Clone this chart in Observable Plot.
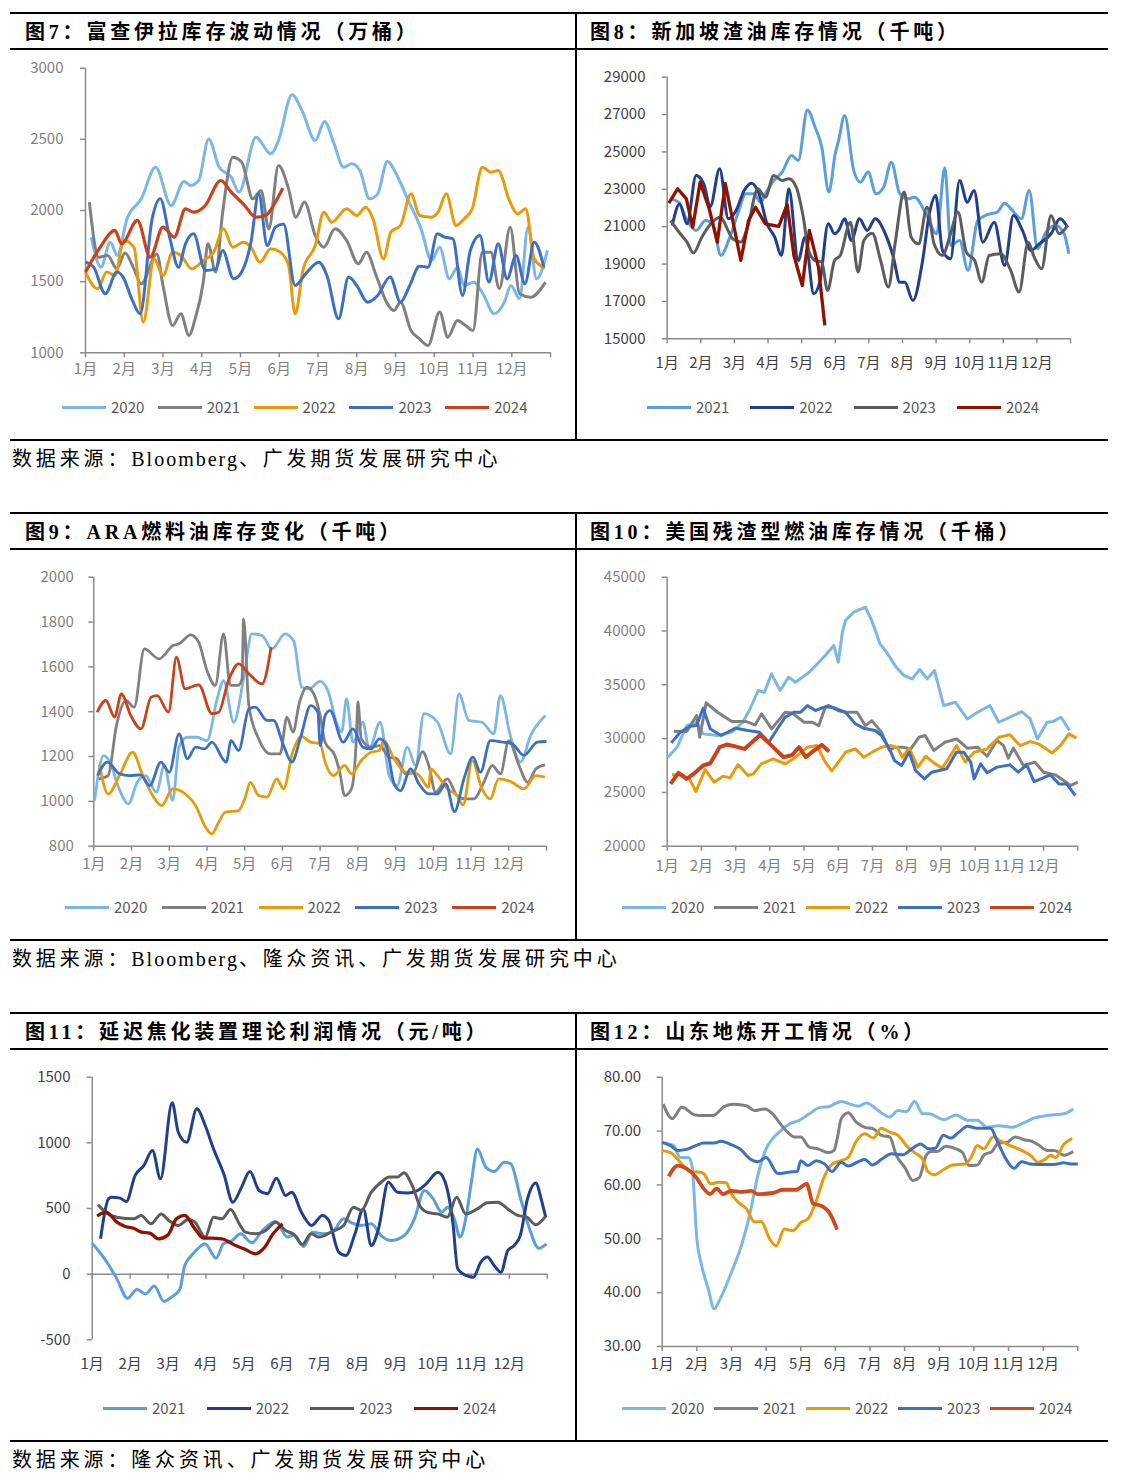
<!DOCTYPE html>
<html><head><meta charset="utf-8">
<script src="https://cdn.jsdelivr.net/npm/d3@7"></script>
<script src="https://cdn.jsdelivr.net/npm/@observablehq/plot@0.6"></script>
<style>
body{margin:0;background:#fff;}
#page{position:relative;width:1131px;height:1481px;background:#fff;overflow:hidden;font-family:"Noto Sans CJK SC",sans-serif;}
.hr{position:absolute;left:10px;width:1098px;height:1.5px;background:#000;z-index:5}
.vr{position:absolute;left:575px;width:1.5px;background:#000;z-index:5}
.title{position:absolute;font-family:"Liberation Serif","Noto Sans CJK SC",serif;font-weight:bold;font-size:20px;letter-spacing:3.8px;color:#000;line-height:20px;white-space:nowrap;z-index:6}
.src{position:absolute;left:12px;font-family:"Liberation Serif","Noto Sans CJK SC",serif;font-size:20px;letter-spacing:3.85px;line-height:20px;white-space:nowrap;color:#000}
.src .en{letter-spacing:2px}
.panel{position:absolute;z-index:1}
.leg{position:absolute;height:20px;z-index:6}
.legline{position:absolute;left:0;top:8.5px;width:44px;height:3px}
.legtext{position:absolute;left:49px;top:1px;font-size:15px;color:#595959;line-height:18px;font-family:"Noto Sans CJK SC",sans-serif}
</style></head><body><div id="page"></div>
<script>
// ---------- tick labels ----------
const MONTH_LABELS = ["1月","2月","3月","4月","5月","6月","7月","8月","9月","10月","11月","12月"];
const MONTH_TICKS = [0,1,2,3,4,5,6,7,8,9,10,11,12];

// ---------- 图7 富查伊拉库存 (万桶) ----------
const f7_years = ["2020","2021","2022","2023","2024"];
const f7_yTicks = [1000,1500,2000,2500,3000];
const f7_2020 = [[0.15,1813],[0.40,1602],[0.64,1777],[0.82,1684],[1.07,1941],[1.44,2082],[1.81,2304],[2.21,2035],[2.54,2204],[2.71,2176],[2.92,2211],[3.18,2503],[3.45,2304],[3.76,2234],[3.96,2129],[4.40,2515],[4.78,2398],[4.98,2492],[5.33,2813],[5.59,2700],[5.93,2492],[6.17,2625],[6.40,2480],[6.66,2304],[6.87,2328],[7.08,2281],[7.33,2082],[7.54,2117],[7.79,2344],[8.04,2246],[8.31,2082],[8.66,1871],[8.93,1649],[9.14,1742],[9.39,1520],[9.60,1602],[9.77,1473],[10.02,1496],[10.28,1403],[10.54,1274],[10.81,1356],[10.98,1473],[11.20,1380],[11.42,1883],[11.64,1520],[11.92,1719]];
const f7_2021 = [[0.10,2059],[0.34,1672],[0.57,1684],[0.81,1590],[1.02,1702],[1.25,1590],[1.44,1485],[1.84,1695],[2.0,1473],[2.25,1192],[2.46,1274],[2.67,1122],[2.83,1239],[3.04,1497],[3.16,1766],[3.36,1567],[3.54,1988],[3.80,2375],[4.03,2340],[4.32,2082],[4.53,2141],[4.73,1871],[4.98,2316],[5.24,2152],[5.43,1953],[5.65,2060],[5.93,1824],[6.15,1742],[6.44,1871],[6.74,1789],[7.04,1625],[7.25,1707],[7.50,1543],[7.79,1344],[7.96,1297],[8.13,1356],[8.40,1157],[8.62,1098],[8.84,1052],[9.14,1286],[9.35,1110],[9.60,1227],[9.81,1192],[10.0,1157],[10.24,1707],[10.46,1707],[10.68,1450],[10.96,1883],[11.20,1415],[11.49,1391],[11.87,1497]];
const f7_2022 = [[0,1567],[0.31,1450],[0.55,1567],[0.76,1543],[0.99,1789],[1.25,1742],[1.49,1215],[1.77,1660],[2.0,1543],[2.25,1707],[2.46,1684],[2.74,1590],[3.04,1649],[3.31,1707],[3.56,1871],[3.80,1742],[4.07,1777],[4.27,1742],[4.50,1637],[4.78,1731],[5.03,1707],[5.24,1614],[5.41,1274],[5.62,1590],[5.93,1754],[6.15,1988],[6.36,1918],[6.74,2012],[7.0,1965],[7.23,2023],[7.42,1941],[7.69,1660],[7.88,1848],[8.13,1895],[8.40,2117],[8.62,1965],[8.93,1953],[9.10,1988],[9.31,2117],[9.56,1895],[9.77,1941],[9.98,2012],[10.24,2304],[10.46,2269],[10.65,2281],[10.94,2070],[11.15,1976],[11.36,2012],[11.58,1660],[11.86,1595]];
const f7_2023 = [[0,1637],[0.21,1602],[0.51,1415],[0.81,1567],[0.97,1532],[1.21,1368],[1.41,1274],[1.72,1941],[1.93,2082],[2.17,1813],[2.40,1602],[2.58,1766],[2.79,1836],[3.09,1579],[3.36,1590],[3.54,1719],[3.82,1520],[4.0,1555],[4.27,1777],[4.47,2117],[4.69,1754],[4.90,1883],[5.11,1906],[5.41,1473],[5.68,1555],[6.02,1637],[6.23,1543],[6.53,1239],[6.79,1532],[7.0,1473],[7.28,1356],[7.54,1403],[7.86,1532],[8.13,1356],[8.35,1462],[8.62,1609],[8.84,1602],[9.08,1836],[9.27,1813],[9.48,1801],[9.73,1403],[9.93,1719],[10.18,1824],[10.41,1497],[10.65,1766],[10.88,1520],[11.11,1684],[11.34,1485],[11.58,1777],[11.83,1602]];
const f7_2024 = [[0,1567],[0.38,1742],[0.76,1860],[0.93,1766],[1.34,1930],[1.67,1672],[2.0,1883],[2.29,1813],[2.58,2012],[2.79,1988],[3.09,2035],[3.49,2211],[3.76,2129],[4.07,2047],[4.40,1953],[4.65,1965],[4.90,2059],[5.09,2157]];

// ---------- 图8 新加坡渣油库存 (千吨) ----------
const f8_years = ["2021","2022","2023","2024"];
const f8_yTicks = [15000,17000,19000,21000,23000,25000,27000,29000];
const f8_2021 = [[0.10,22490],[0.34,22310],[0.59,21330],[0.86,20800],[1.14,21330],[1.35,21155],[1.60,19460],[1.83,20265],[2.10,21690],[2.34,22760],[2.58,22760],[2.78,22310],[2.92,22760],[3.17,23470],[3.42,23920],[3.70,24810],[3.90,24540],[4.17,27250],[4.40,26325],[4.60,25255],[4.81,22850],[5.0,24900],[5.1,25610],[5.28,26950],[5.55,24010],[5.75,23380],[5.98,23920],[6.21,22760],[6.44,23115],[6.67,24450],[6.92,22760],[7.17,22490],[7.36,22580],[7.70,21690],[8.02,20620],[8.26,24150],[8.44,19990],[8.70,20265],[8.95,18660],[9.24,21330],[9.53,21650],[9.82,21780],[10.04,22260],[10.27,21870],[10.54,21420],[10.77,22940],[11.02,19820],[11.27,20710],[11.56,21065],[11.81,20620],[11.95,19550]];
const f8_2022 = [[0.15,21065],[0.37,22220],[0.59,21155],[0.86,23740],[1.09,23290],[1.28,22080],[1.56,24100],[1.82,21420],[2.05,21865],[2.29,22940],[2.51,23330],[2.73,22760],[2.97,21155],[3.20,20440],[3.40,19460],[3.62,23030],[3.90,19193],[4.10,20440],[4.36,17410],[4.55,18120],[4.79,21155],[4.98,20620],[5.10,20800],[5.28,21420],[5.48,20265],[5.72,21420],[5.95,20800],[6.19,21420],[6.49,20620],[6.73,19370],[6.92,18030],[7.07,18030],[7.31,17050],[7.60,19190],[7.80,21690],[7.99,22670],[8.19,19730],[8.43,19280],[8.70,23470],[8.93,22310],[9.13,22940],[9.39,20170],[9.73,21240],[10.04,18925],[10.30,21600],[10.57,20800],[10.82,19730],[11.07,20083],[11.42,20620],[11.69,21420],[11.91,20975]];
const f8_2023 = [[0.10,21330],[0.39,20620],[0.59,20175],[0.78,19590],[1.03,20440],[1.30,21155],[1.57,21510],[1.95,20350],[2.19,20175],[2.39,20975],[2.70,23030],[2.92,22580],[3.17,23740],[3.42,23470],[3.62,23560],[3.84,23115],[4.04,21600],[4.21,19730],[4.40,19190],[4.60,19100],[4.77,17590],[4.98,19190],[5.15,19460],[5.45,21240],[5.68,18570],[5.85,20260],[6.10,20655],[6.35,19190],[6.58,17770],[6.78,20083],[7.05,22850],[7.26,20440],[7.48,20083],[7.73,22040],[7.94,20083],[8.19,19460],[8.43,20620],[8.65,21780],[8.90,19640],[9.15,19190],[9.36,18030],[9.58,19460],[9.92,19550],[10.22,18660],[10.47,17500],[10.74,20170],[10.92,19370],[11.14,18750],[11.42,21600],[11.66,20620],[11.92,21065]];
const f8_2024 = [[0.05,22260],[0.31,23030],[0.57,22490],[0.76,20975],[0.98,23380],[1.25,21960],[1.49,20170],[1.73,23300],[1.95,21330],[2.19,19190],[2.42,21330],[2.63,22040],[2.92,21155],[3.32,21020],[3.57,22190],[3.77,19460],[4.02,17855],[4.23,20800],[4.50,18840],[4.69,15720]];

// ---------- 图9 ARA燃料油库存 (千吨) ----------
const f9_years = ["2020","2021","2022","2023","2024"];
const f9_yTicks = [800,1000,1200,1400,1600,1800,2000];
const f9_2020 = [[0.02,1004],[0.26,1204],[0.43,1175],[0.64,1070],[0.92,989],[1.15,1085],[1.37,1115],[1.66,1041],[1.87,1160],[2.09,1004],[2.26,1242],[2.48,1286],[2.74,1286],[3.0,1271],[3.27,1457],[3.44,1539],[3.71,1353],[3.97,1546],[4.19,1747],[4.46,1740],[4.72,1680],[5.07,1747],[5.30,1715],[5.51,1510],[5.70,1502],[6.0,1535],[6.22,1487],[6.43,1353],[6.57,1309],[6.70,1457],[6.87,1264],[7.13,1353],[7.30,1234],[7.59,1353],[7.83,1115],[8.04,1070],[8.31,1242],[8.53,1160],[8.75,1391],[9.11,1353],[9.46,1212],[9.68,1479],[9.94,1361],[10.29,1353],[10.60,1301],[10.78,1472],[11.04,1294],[11.31,1175],[11.58,1294],[11.97,1383]];
const f9_2021 = [[0.13,1100],[0.38,1115],[0.60,1338],[0.85,1450],[1.07,1420],[1.34,1680],[1.73,1636],[2.10,1695],[2.26,1703],[2.57,1743],[2.78,1710],[3.0,1584],[3.22,1517],[3.44,1747],[3.62,1517],[3.82,1517],[3.93,1546],[3.97,1814],[4.11,1427],[4.37,1279],[4.68,1212],[4.94,1212],[5.12,1376],[5.28,1309],[5.45,1440],[5.65,1509],[5.83,1479],[6.0,1383],[6.13,1264],[6.39,1205],[6.52,1130],[6.65,1026],[6.83,1056],[6.96,1279],[7.0,1445],[7.09,1279],[7.35,1242],[7.57,1249],[7.83,1197],[8.04,1190],[8.26,1123],[8.48,1130],[8.71,1222],[8.88,1160],[9.06,1041],[9.37,1100],[9.63,1026],[9.85,1011],[10.07,1011],[10.34,1085],[10.56,1160],[10.78,1123],[11.0,1271],[11.27,1160],[11.50,1085],[11.72,1145],[11.96,1163]];
const f9_2022 = [[0.15,1163],[0.38,1033],[0.68,1115],[1.03,1219],[1.30,1115],[1.56,1026],[1.80,981],[2.09,1056],[2.43,1033],[2.70,981],[2.96,885],[3.13,855],[3.31,907],[3.49,952],[3.84,959],[4.0,1011],[4.15,1085],[4.37,1026],[4.59,1019],[4.85,1100],[5.03,1056],[5.27,1219],[5.50,1290],[5.75,1264],[6.0,1257],[6.13,1175],[6.35,1115],[6.65,1160],[6.83,1123],[7.09,1182],[7.35,1219],[7.57,1227],[7.69,1271],[7.96,1190],[8.26,1130],[8.57,1123],[8.88,1063],[8.93,1145],[9.11,1115],[9.37,1056],[9.63,1026],[9.79,984],[10.03,1182],[10.29,1056],[10.51,1011],[10.73,1100],[11.04,1089],[11.40,1056],[11.72,1115],[11.96,1108]];
const f9_2023 = [[0.10,1115],[0.36,1175],[0.68,1123],[0.94,1115],[1.24,1118],[1.48,1070],[1.78,1175],[2.0,1130],[2.26,1301],[2.48,1190],[2.70,1242],[2.94,1234],[3.13,1264],[3.51,1175],[3.64,1271],[3.84,1227],[4.11,1412],[4.28,1420],[4.59,1361],[4.76,1361],[5.03,1249],[5.25,1175],[5.48,1285],[5.75,1427],[5.94,1398],[6.0,1249],[6.13,1383],[6.26,1405],[6.61,1264],[6.87,1323],[7.13,1242],[7.35,1234],[7.57,1279],[7.74,1257],[7.96,1078],[8.13,1048],[8.40,1145],[8.62,1078],[8.88,1033],[9.11,1033],[9.33,1078],[9.56,954],[9.81,1100],[10.05,1197],[10.25,1130],[10.51,1271],[10.86,1264],[11.09,1257],[11.40,1205],[11.76,1264],[12.0,1267]];
const f9_2024 = [[0.09,1398],[0.32,1450],[0.55,1376],[0.73,1479],[0.98,1383],[1.25,1323],[1.52,1465],[1.68,1472],[1.98,1398],[2.19,1643],[2.42,1502],[2.78,1520],[3.13,1391],[3.31,1398],[3.57,1539],[3.84,1613],[4.11,1569],[4.46,1524],[4.70,1688]];

// ---------- 图10 美国残渣型燃油库存 (千桶) ----------
const f10_years = ["2020","2021","2022","2023","2024"];
const f10_yTicks = [20000,25000,30000,35000,40000,45000];
const f10_2020 = [[0.02,28270],[0.29,29200],[0.57,31210],[0.86,31520],[1.05,30440],[1.47,30290],[1.89,30600],[2.21,31520],[2.42,32760],[2.66,34470],[2.84,34310],[3.05,36020],[3.30,34470],[3.55,35710],[3.75,35240],[4.15,36170],[4.62,37720],[4.87,38650],[5.0,37100],[5.12,39890],[5.21,40970],[5.45,41750],[5.79,42210],[5.98,40970],[6.22,38800],[6.41,38030],[6.69,36640],[6.92,35860],[7.16,35550],[7.38,36420],[7.60,35550],[7.81,36330],[8.08,33070],[8.42,33380],[8.77,31830],[9.07,32450],[9.43,33070],[9.69,31520],[10.02,31990],[10.36,32510],[10.61,31830],[10.82,29970],[11.10,31520],[11.27,31580],[11.51,31990],[11.76,30750]];
const f10_2021 = [[0.19,30690],[0.57,30660],[0.86,32140],[0.95,30130],[1.14,33320],[1.47,32450],[1.89,31580],[2.31,31580],[2.57,31270],[2.76,32300],[3.05,30900],[3.45,32450],[3.65,32390],[4.0,31520],[4.24,31520],[4.43,31210],[4.62,32920],[4.83,32920],[5.21,32450],[5.55,32450],[5.79,31210],[5.98,31670],[6.26,30600],[6.50,28890],[6.64,29200],[6.88,29200],[7.12,29040],[7.36,30130],[7.54,30290],[7.79,28890],[8.12,29660],[8.46,29970],[8.77,29110],[9.07,29200],[9.35,28360],[9.64,29820],[9.83,29350],[9.97,28180],[10.12,29110],[10.41,27500],[10.75,27810],[11.0,26880],[11.34,26630],[11.59,26100],[11.78,25640],[12.0,25950]];
const f10_2022 = [[0.14,26630],[0.43,26630],[0.65,26260],[0.84,25080],[1.11,27120],[1.37,25950],[1.63,26510],[1.84,26350],[2.07,27590],[2.36,26570],[2.52,26720],[2.75,27650],[3.10,28120],[3.45,27650],[3.75,28270],[4.10,29200],[4.38,29350],[4.62,27810],[4.81,27000],[5.0,27800],[5.21,28730],[5.50,29040],[5.74,28270],[6.08,28890],[6.26,29200],[6.55,29350],[6.74,29110],[6.88,28270],[7.07,29110],[7.33,27350],[7.55,28360],[7.77,27810],[8.03,27250],[8.22,28120],[8.46,29350],[8.71,27810],[8.97,28730],[9.35,29040],[9.69,30130],[10.02,30350],[10.31,29350],[10.61,29720],[10.85,29510],[11.25,28670],[11.49,29350],[11.74,30440],[11.96,30040]];
const f10_2023 = [[0.12,29600],[0.38,30590],[0.67,31150],[0.86,31210],[1.05,32820],[1.26,30900],[1.58,30290],[2.0,30970],[2.36,30750],[2.70,30590],[2.97,29660],[3.25,31060],[3.45,31990],[3.70,32450],[3.90,32450],[4.10,33070],[4.33,32610],[4.71,33070],[5.0,32610],[5.21,32450],[5.50,31370],[5.74,30970],[6.08,30750],[6.26,30290],[6.50,29040],[6.64,27960],[6.85,27500],[7.07,28730],[7.26,27030],[7.52,26260],[7.73,26880],[8.17,27190],[8.45,28730],[8.67,28730],[8.87,27810],[8.97,26260],[9.16,27650],[9.35,26820],[9.64,27350],[10.02,27560],[10.26,26880],[10.51,27560],[10.72,26010],[11.20,26630],[11.45,25790],[11.67,25790],[11.93,24710]];
const f10_2024 = [[0.10,25790],[0.33,26820],[0.57,26260],[0.81,26820],[1.05,27500],[1.26,27710],[1.53,29200],[1.74,29450],[2.0,29260],[2.26,29040],[2.72,30350],[3.05,29350],[3.40,28270],[3.65,28480],[3.85,29200],[4.05,28270],[4.29,28890],[4.52,29420],[4.73,28800]];

// ---------- 图11 延迟焦化装置理论利润 (元/吨) ----------
const f11_years = ["2021","2022","2023","2024"];
const f11_yTicks = [-500,0,500,1000,1500];
const f11_2021 = [[0,236],[0.39,91],[0.65,-36],[0.93,-183],[1.18,-117],[1.41,-150],[1.64,-91],[1.89,-208],[2.09,-175],[2.31,-117],[2.44,66],[2.62,142],[2.80,198],[2.97,231],[3.27,122],[3.46,231],[3.69,256],[3.91,307],[4.21,239],[4.49,332],[4.84,401],[5.15,282],[5.33,300],[5.57,210],[5.81,320],[6.07,307],[6.33,320],[6.63,421],[6.84,391],[7.10,371],[7.36,383],[7.62,294],[7.88,256],[8.23,294],[8.50,421],[8.76,637],[8.98,579],[9.22,472],[9.37,510],[9.55,421],[9.70,282],[9.85,421],[10.0,700],[10.16,954],[10.38,815],[10.60,782],[10.87,853],[11.04,840],[11.30,574],[11.52,358],[11.78,198],[11.98,231]];
const f11_2022 = [[0.22,269],[0.43,574],[0.52,586],[0.74,579],[0.90,553],[1.13,751],[1.36,827],[1.59,942],[1.80,726],[2.11,1305],[2.27,1081],[2.49,1005],[2.76,1259],[2.98,1132],[3.20,954],[3.47,764],[3.71,548],[3.92,650],[4.16,782],[4.40,637],[4.62,612],[4.86,731],[5.10,599],[5.26,624],[5.53,465],[5.79,371],[6.07,447],[6.24,409],[6.50,168],[6.69,142],[6.93,307],[7.15,497],[7.36,218],[7.55,345],[7.81,700],[8.05,624],[8.32,619],[8.58,637],[8.81,688],[9.12,777],[9.31,700],[9.51,396],[9.64,41],[9.86,-10],[10.05,-23],[10.25,91],[10.42,130],[10.60,66],[10.78,15],[10.96,180],[11.13,218],[11.29,294],[11.48,574],[11.70,695],[11.84,574],[11.96,434]];
const f11_2023 = [[0.15,528],[0.41,459],[0.65,434],[1.09,421],[1.29,447],[1.55,383],[1.82,459],[2.02,409],[2.27,371],[2.54,416],[2.71,396],[2.98,282],[3.20,434],[3.42,421],[3.65,492],[3.88,383],[4.04,320],[4.31,307],[4.58,332],[4.84,396],[5.10,332],[5.33,300],[5.54,225],[5.77,307],[5.98,282],[6.33,325],[6.63,371],[6.89,510],[7.10,485],[7.36,624],[7.62,700],[7.84,739],[8.05,739],[8.22,772],[8.44,675],[8.66,510],[8.88,467],[9.11,459],[9.37,434],[9.61,586],[9.85,459],[10.16,497],[10.42,543],[10.69,548],[10.96,497],[11.22,447],[11.46,434],[11.70,376],[11.96,442]];
const f11_2024 = [[0.13,442],[0.37,472],[0.65,396],[0.87,363],[1.09,350],[1.30,320],[1.52,312],[1.75,269],[2.0,299],[2.22,421],[2.44,447],[2.71,345],[2.93,274],[3.15,274],[3.42,269],[3.78,218],[4.0,193],[4.31,155],[4.53,198],[4.77,307],[5.02,383]];

// ---------- 图12 山东地炼开工 (%) ----------
const f12_years = ["2020","2021","2022","2023","2024"];
const f12_yTicks = [30,40,50,60,70,80];
const f12_2020 = [[0,67.9],[0.33,67.3],[0.52,65.1],[0.76,65.1],[0.86,63.6],[1.0,50.0],[1.14,45.0],[1.33,40.7],[1.50,37.0],[1.67,38.8],[2.0,43.8],[2.29,48.8],[2.52,54.3],[2.76,61.7],[3.0,66.7],[3.19,68.6],[3.38,69.8],[3.67,71.3],[3.96,72.0],[4.25,73.2],[4.57,74.4],[4.79,74.5],[5.17,75.5],[5.42,75.0],[5.66,74.6],[5.90,75.2],[6.24,73.8],[6.57,72.6],[6.81,73.8],[7.05,73.6],[7.29,75.5],[7.52,73.2],[7.70,73.2],[8.14,72.1],[8.48,73.0],[8.81,72.0],[9.10,72.0],[9.38,70.7],[9.71,71.0],[10.10,70.7],[10.44,71.5],[10.73,72.4],[11.02,72.8],[11.26,73.0],[11.60,73.2],[11.87,74.1]];
const f12_2021 = [[0.03,75.0],[0.29,72.3],[0.57,74.4],[0.95,73.0],[1.19,72.9],[1.46,72.9],[1.80,74.6],[2.07,75.0],[2.43,74.7],[2.67,73.8],[2.95,74.1],[3.19,73.2],[3.38,71.6],[3.62,69.8],[3.82,68.9],[4.0,68.9],[4.25,67.0],[4.50,66.7],[4.80,66.0],[4.96,66.4],[5.05,68.5],[5.17,72.3],[5.37,73.4],[5.61,71.6],[5.85,70.7],[6.10,70.4],[6.33,69.2],[6.57,68.9],[6.76,65.5],[7.0,63.3],[7.24,60.8],[7.43,61.4],[7.62,65.5],[7.77,66.2],[7.95,66.2],[8.19,67.2],[8.48,66.7],[8.67,66.0],[8.86,63.6],[9.10,63.7],[9.30,65.6],[9.52,66.2],[9.71,67.8],[9.95,67.9],[10.19,68.9],[10.44,68.4],[10.68,68.1],[10.87,67.4],[11.12,66.4],[11.33,66.4],[11.60,65.5],[11.87,66.2]];
const f12_2022 = [[0,66.4],[0.29,65.8],[0.52,64.2],[0.81,62.5],[1.05,62.4],[1.20,62.1],[1.40,60.2],[1.65,60.5],[1.85,60.4],[2.0,58.3],[2.19,56.8],[2.43,55.6],[2.67,53.1],[2.86,53.2],[3.10,50.0],[3.29,48.7],[3.53,51.8],[3.77,51.5],[4.02,53.1],[4.21,53.7],[4.40,56.2],[4.69,61.7],[4.90,63.8],[5.17,64.5],[5.37,65.1],[5.61,68.2],[5.85,69.5],[6.10,68.7],[6.32,70.5],[6.57,69.8],[6.81,69.2],[7.05,67.3],[7.29,66.0],[7.52,64.8],[7.67,62.5],[7.86,61.9],[8.14,62.9],[8.38,63.7],[8.75,63.9],[8.92,65.1],[9.10,67.3],[9.29,66.7],[9.55,68.9],[9.76,68.2],[10.05,67.3],[10.38,66.4],[10.63,65.5],[10.87,64.2],[11.07,64.8],[11.21,65.5],[11.36,65.1],[11.60,67.6],[11.84,68.6]];
const f12_2023 = [[0,67.9],[0.24,67.3],[0.45,66.4],[0.71,66.6],[1.0,67.4],[1.19,67.8],[1.50,67.8],[1.70,68.1],[1.95,67.6],[2.24,66.7],[2.57,64.7],[2.76,64.3],[3.0,65.1],[3.34,62.1],[3.70,62.4],[3.90,62.5],[4.0,64.5],[4.21,63.6],[4.45,64.5],[4.69,63.9],[4.90,62.5],[5.17,64.2],[5.37,63.5],[5.66,64.3],[5.85,64.7],[6.07,63.7],[6.34,64.8],[6.62,65.8],[6.95,65.6],[7.19,66.6],[7.46,67.6],[7.69,66.7],[7.88,66.8],[8.12,69.2],[8.33,68.7],[8.57,69.8],[8.81,70.9],[9.10,70.5],[9.48,70.5],[9.67,68.2],[9.90,65.1],[10.16,63.1],[10.38,64.3],[10.63,63.9],[11.02,63.8],[11.31,63.8],[11.60,64.1],[11.79,63.9],[12.0,63.9]];
const f12_2024 = [[0.19,61.6],[0.45,63.6],[0.71,63.0],[0.98,61.4],[1.19,59.4],[1.38,58.3],[1.57,59.3],[1.76,58.3],[2.0,58.9],[2.29,58.7],[2.57,58.9],[2.76,58.3],[3.19,58.5],[3.48,59.1],[3.87,59.1],[4.17,60.2],[4.36,56.5],[4.56,56.2],[4.85,54.6],[5.05,51.7]];

// ---------- texts ----------
const titles = ["图7：富查伊拉库存波动情况（万桶）","图8：新加坡渣油库存情况（千吨）","图9：ARA燃料油库存变化（千吨）","图10：美国残渣型燃油库存情况（千桶）","图11：延迟焦化装置理论利润情况（元/吨）","图12：山东地炼开工情况（%）"];
const sources = [["数据来源：","Bloomberg","、广发期货发展研究中心"],["数据来源：","Bloomberg","、隆众资讯、广发期货发展研究中心"],["数据来源：","","隆众资讯、广发期货发展研究中心"]];

// ---------- styles ----------
const AXIS = "#8c8c8c";
const LB = "#7cb6e6", GR = "#808080", OR = "#e79b0c", BL = "#3d6fc2", RD = "#c9421c";
const MB = "#5a9fdc", NV = "#213f8c", DG = "#5c5c5c", DR = "#8e1200";

const panels = [
  {left:10, top:49, width:565, height:345, ml:75, mr:25, mt:18.7, mb:41.7, yDomain:[1000,3000], yTicks:f7_yTicks, fmt:d=>String(d), yPad:17, xPad:6, lab:"#7f7f7f", curve:"monotone-x",
   names:f7_years, data:[f7_2020,f7_2021,f7_2022,f7_2023,f7_2024], colors:[LB,GR,OR,BL,RD], widths:[3,3,3,3,3.2],
   leg:{x:62, y:407, step:95.8}},
  {left:576, top:49, width:532, height:345, ml:90.7, mr:38, mt:27.7, mb:55.7, yDomain:[15000,29000], yTicks:f8_yTicks, fmt:d=>String(d), yPad:16.7, xPad:14, lab:"#404040", curve:"monotone-x",
   names:f8_years, data:[f8_2021,f8_2022,f8_2023,f8_2024], colors:[MB,NV,DG,DR], widths:[3,3,3,3.3], curves:[null,null,null,"linear"],
   leg:{x:647, y:407, step:103.3}},
  {left:10, top:549, width:565, height:345, ml:83.3, mr:29, mt:27.7, mb:48.3, yDomain:[800,2000], yTicks:f9_yTicks, fmt:d=>String(d), yPad:15, xPad:7, lab:"#7f7f7f", curve:"monotone-x",
   names:f9_years, data:[f9_2020,f9_2021,f9_2022,f9_2023,f9_2024], colors:[LB,GR,OR,BL,RD], widths:[2.8,2.8,2.8,2.8,2.8],
   leg:{x:65, y:907, step:96.8}},
  {left:576, top:549, width:532, height:345, ml:90.7, mr:30.7, mt:27.7, mb:48.3, yDomain:[20000,45000], yTicks:f10_yTicks, fmt:d=>String(d), yPad:16.7, xPad:9, lab:"#7f7f7f", curve:"linear",
   names:f10_years, data:[f10_2020,f10_2021,f10_2022,f10_2023,f10_2024], colors:[LB,GR,OR,BL,RD], widths:[3,3,3,3,4],
   leg:{x:622, y:907, step:92}},
  {left:10, top:1049, width:565, height:345, ml:81.7, mr:28.3, mt:27.7, mb:54.7, yDomain:[-500,1500], yTicks:f11_yTicks, fmt:d=>String(d), yPad:16.7, xPad:19, lab:"#404040", curve:"monotone-x", zeroAxis:true,
   names:f11_years, data:[f11_2021,f11_2022,f11_2023,f11_2024], colors:[MB,NV,DG,DR], widths:[3,3,3,3.3],
   leg:{x:103, y:1408, step:103.7}},
  {left:576, top:1049, width:532, height:345, ml:85.7, mr:30.7, mt:27.7, mb:48, yDomain:[30,80], yTicks:f12_yTicks, fmt:d=>d.toFixed(2), yPad:16, xPad:7, lab:"#404040", curve:"monotone-x",
   names:f12_years, data:[f12_2020,f12_2021,f12_2022,f12_2023,f12_2024], colors:[LB,GR,OR,BL,"#d04a1c"], widths:[3,3,3,3,3.8],
   leg:{x:622, y:1408, step:92}}
];

const page = document.getElementById("page");
function el(cls, css, html) {
  const d = document.createElement("div");
  if (cls) d.className = cls;
  Object.assign(d.style, css);
  if (html != null) d.innerHTML = html;
  page.appendChild(d);
  return d;
}

const FONT = '"Noto Sans CJK SC","Noto Sans",sans-serif';

panels.forEach((p, k) => {
  const marks = [];
  const xLineAt = p.zeroAxis ? 0 : p.yDomain[0];
  marks.push(Plot.ruleY([xLineAt], {stroke: AXIS, strokeWidth: 1.5}));
  marks.push(Plot.ruleX([0], {stroke: AXIS, strokeWidth: 1.5}));
  marks.push(Plot.axisY({ticks: p.yTicks, tickFormat: p.fmt, tickSize: 5, tickPadding: p.yPad, stroke: AXIS, strokeWidth: 1.5, color: p.lab, fill: p.lab, fontSize: 15, label: null}));
  if (p.zeroAxis) {
    const span = p.yDomain[1] - p.yDomain[0];
    const plotH = p.height - p.mt - p.mb;
    const tickLen = 5 * span / plotH;
    marks.push(Plot.ruleX(MONTH_TICKS, {x: d => d, y1: 0, y2: -tickLen, stroke: AXIS, strokeWidth: 1.5}));
    marks.push(Plot.axisX({ticks: MONTH_TICKS, tickFormat: d => d < 12 ? MONTH_LABELS[d] : "", tickSize: 0, tickPadding: p.xPad, color: p.lab, fill: p.lab, fontSize: 15, label: null}));
  } else {
    marks.push(Plot.axisX({ticks: MONTH_TICKS, tickFormat: d => d < 12 ? MONTH_LABELS[d] : "", tickSize: 5, tickPadding: p.xPad, stroke: AXIS, strokeWidth: 1.5, color: p.lab, fill: p.lab, fontSize: 15, label: null}));
  }
  p.data.forEach((series, i) => {
    const curve = (p.curves && p.curves[i]) || p.curve;
    marks.push(Plot.line(series, {x: d => d[0], y: d => d[1], stroke: p.colors[i], strokeWidth: p.widths[i], curve, strokeLinejoin: "round", strokeLinecap: "butt"}));
  });
  const svg = Plot.plot({
    width: p.width, height: p.height,
    marginLeft: p.ml, marginRight: p.mr, marginTop: p.mt, marginBottom: p.mb,
    x: {domain: [0, 12]},
    y: {domain: p.yDomain},
    style: {fontFamily: FONT, fontSize: "15px", background: "transparent", overflow: "visible"},
    marks
  });
  const holder = el("panel", {left: p.left + "px", top: p.top + "px", width: p.width + "px", height: p.height + "px"});
  holder.appendChild(svg);

  // legend
  p.names.forEach((n, i) => {
    const item = el("leg", {left: (p.leg.x + i * p.leg.step) + "px", top: (p.leg.y - 10) + "px", width: "95px"});
    const ln = document.createElement("div"); ln.className = "legline"; ln.style.background = p.colors[i];
    const tx = document.createElement("div"); tx.className = "legtext"; tx.textContent = n;
    item.appendChild(ln); item.appendChild(tx);
  });
});

// rules, titles, sources
const rows = [{top:13, head:49, bottom:440, src:459}, {top:513, head:549, bottom:940, src:959}, {top:1013, head:1049, bottom:1441, src:1460}];
rows.forEach((r, i) => {
  el("hr", {top: (r.top - 0.75) + "px"});
  el("hr", {top: (r.head - 0.75) + "px"});
  el("hr", {top: (r.bottom - 0.75) + "px"});
  el("vr", {top: r.top + "px", height: (r.bottom - r.top) + "px"});
  const cy = (r.top + r.head) / 2;
  el("title", {left: "25px", top: (cy - 9) + "px"}, titles[i * 2]);
  el("title", {left: "590px", top: (cy - 9) + "px"}, titles[i * 2 + 1]);
  const s = sources[i];
  el("src", {top: (r.src - 10) + "px"}, s[0] + (s[1] ? '<span class="en">' + s[1] + '</span>' : '') + s[2]);
});
</script></body></html>
